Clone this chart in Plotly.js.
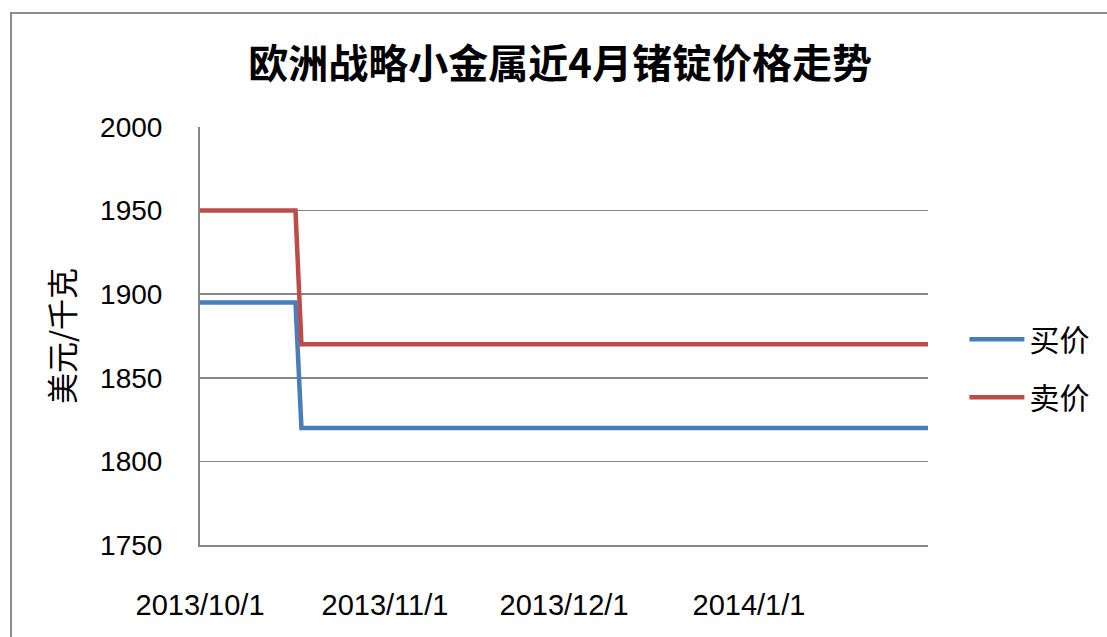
<!DOCTYPE html>
<html><head><meta charset="utf-8">
<script src="https://cdn.plot.ly/plotly-3.0.1.min.js"></script>
<style>
html,body{margin:0;padding:0;background:#fff;overflow:hidden}
#wrap{position:relative;width:1107px;height:637px}
#chart{position:absolute;left:0;top:0;width:1107px;height:637px}
#frame{position:absolute;left:10px;top:12px;width:1200px;height:700px;border:2px solid #8c8c8c;pointer-events:none}
</style></head>
<body><div id="wrap"><div id="chart"></div><div id="frame"></div></div>
<script>
const dates = ['2013-10-01','2013-10-17','2013-10-18','2013-11-01','2013-12-01','2014-01-01','2014-01-31'];
const buyPrice = [1895,1895,1820,1820,1820,1820,1820];
const sellPrice = [1950,1950,1870,1870,1870,1870,1870];
const seriesNames = ['买价','卖价'];
const tickDates = ['2013-10-01','2013-11-01','2013-12-01','2014-01-01'];
const tickLabels = ['2013/10/1','2013/11/1','2013/12/1','2014/1/1'];
const titleText = '欧洲战略小金属近4月锗锭价格走势';
const yTitle = '美元/千克';

const latin = 'Liberation Sans, Arial, sans-serif';
const cjk = 'Noto Sans CJK SC, sans-serif';

const traces = [
  {x: dates, y: buyPrice, name: seriesNames[0], legendgroup:'a', mode:'lines', line:{color:'#4a7ebb', width:4.5}},
  {x: dates, y: sellPrice, name: seriesNames[1], legendgroup:'b', mode:'lines', line:{color:'#be4b48', width:4.5}}
];
const layout = {
  width:1107, height:637,
  margin:{l:200, r:179, t:127, b:92},
  paper_bgcolor:'rgba(0,0,0,0)', plot_bgcolor:'#fff',
  title:{text:'<b>'+titleText+'</b>', x:0.506, xanchor:'center', y:0.9, yanchor:'middle', font:{family:cjk, size:40, color:'#000'}},
  xaxis:{type:'date', range:['2013-10-01','2014-01-31'], tickvals:tickDates, ticktext:tickLabels,
    showgrid:false, showline:true, linecolor:'#868686', linewidth:2, zeroline:false,
    ticks:'outside', ticklen:33, tickcolor:'rgba(0,0,0,0)', tickfont:{family:latin, size:29, color:'#000'}},
  yaxis:{range:[1750,2000], dtick:50, tick0:1750, showgrid:true, gridcolor:'#868686', gridwidth:1.5,
    showline:true, linecolor:'#868686', linewidth:2, zeroline:false,
    ticks:'outside', ticklen:30, tickcolor:'rgba(0,0,0,0)', tickfont:{family:latin, size:28, color:'#000'},
    title:{text:yTitle, font:{family:cjk, size:31, color:'#000'}, standoff:16}},
  legend:{x:1.05, xanchor:'left', y:0.423, yanchor:'middle', font:{family:cjk, size:30, color:'#000'}, tracegroupgap:16, itemwidth:55, bgcolor:'rgba(0,0,0,0)'},
  showlegend:true
};
Plotly.newPlot('chart', traces, layout, {displayModeBar:false, staticPlot:true});
</script></body></html>
